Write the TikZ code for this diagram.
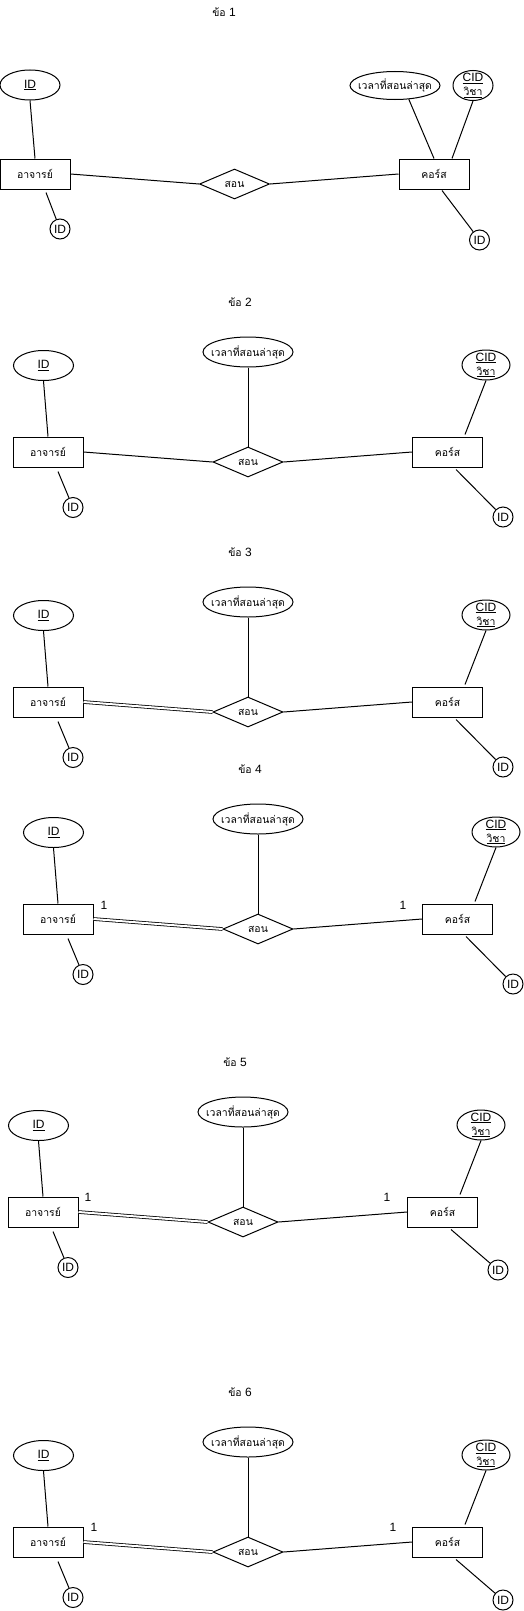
\documentclass[tikz,border=0pt]{standalone}
\usepackage{fontspec}
\setmainfont{Liberation Sans}
\newfontfamily\thai[Script=Thai,Scale=0.87]{Loma}
\usetikzlibrary{shapes.geometric}
\tikzset{
 ent/.style={draw, rectangle, minimum width=70pt, minimum height=30pt, inner sep=0pt, line width=1pt},
 rel/.style={draw, diamond, aspect=2, minimum width=70pt, minimum height=30pt, inner sep=0pt, line width=1pt},
 attr/.style={draw, ellipse, minimum height=30pt, inner sep=0pt, line width=1pt},
 sml/.style={draw, circle, minimum size=20pt, inner sep=0pt, line width=1pt},
 lbl/.style={inner sep=0pt, align=center},
 ln/.style={line width=1pt},
 dbl/.style={double, double distance=2pt, line width=0.8pt},
 ttl/.style={inner sep=0pt},
 card/.style={inner sep=0pt},
}
% #1 prefix, #2 dx, #3 dy, #4 number, #5 right circle y, #6 style of left relationship line
\newcommand\erdtwo[6]{%
\begin{scope}[shift={(#2,#3)}]
\node[ttl] (#1t) at (240,302) {{\thai ข้อ} #4};
\node[attr, minimum width=60pt, label={[lbl]center:\underline{ID}}] (#1id) at (43.5,365.5) {};
\node[ent] (#1a) at (48,452) {\thai อาจารย์};
\node[sml] (#1c) at (73,507.5) {ID};
\node[rel] (#1s) at (248,462) {\thai สอน};
\node[attr, minimum width=90pt, label={[lbl]center:{\thai เวลาที่สอนล่าสุด}}] (#1v) at (248,352) {};
\node[ent] (#1k) at (447.5,452) {\thai คอร์ส};
\node[attr, minimum width=48pt, label={[lbl]center:{\underline{CID}\\\underline{\thai วิชา}}}] (#1cid) at (486,365) {};
\node[sml] (#1c2) at (503,#5) {ID};
\draw[ln] (#1id.south) -- (#1a.north);
\draw[ln] ([xshift=10pt,yshift=-4pt]#1a.south) -- (#1c);
\draw[#6] (#1a.east) -- (#1s.west);
\draw[ln] (#1s.east) -- (#1k.west);
\draw[ln] (#1v.south) -- (#1s.north);
\draw[ln] (#1cid.south) -- ([xshift=17.5pt,yshift=2pt]#1k.north);
\draw[ln] ([xshift=8.5pt,yshift=-2pt]#1k.south) -- (#1c2);
\end{scope}}
\begin{document}
\begin{tikzpicture}[x=1pt,y=-1pt,font=\fontsize{12pt}{14pt}\selectfont]
\useasboundingbox (0,0) rectangle (524,1611);
% ---- 1 ----
\node[ttl] (t1) at (224,12) {{\thai ข้อ} 1};
\node[attr, minimum width=60pt, label={[lbl]center:\underline{ID}}] (d1id) at (30,85) {};
\node[ent] (d1a) at (35,174) {\thai อาจารย์};
\node[sml] (d1c) at (60,229) {ID};
\node[rel] (d1s) at (234.5,184) {\thai สอน};
\node[ent] (d1k) at (434,174) {\thai คอร์ส};
\node[attr, minimum width=90pt, minimum height=28pt, label={[lbl]center:{\thai เวลาที่สอนล่าสุด}}] (d1v) at (395,85.5) {};
\node[attr, minimum width=40pt, label={[lbl]center:{\underline{CID}\\\underline{\thai วิชา}}}] (d1cid) at (473,85.5) {};
\node[sml] (d1c2) at (479.5,240) {ID};
\draw[ln] (d1id.south) -- (d1a.north);
\draw[ln] ([xshift=11pt,yshift=-3pt]d1a.south) -- (d1c);
\draw[ln] (d1a.east) -- (d1s.west);
\draw[ln] (d1s.east) -- (d1k.west);
\draw[ln] (d1v.-45) -- (d1k.north);
\draw[ln] (d1cid.south) -- ([xshift=18pt]d1k.north);
\draw[ln] ([xshift=8pt,yshift=-1pt]d1k.south) -- (d1c2);
% ---- 2..6 ----
\erdtwo{d2}{0}{0}{2}{517}{ln}
\erdtwo{d3}{0}{250}{3}{517}{dbl}
\erdtwo{d4}{10}{467}{4}{517}{dbl}
\erdtwo{d5}{-5}{760}{5}{510}{dbl}
\erdtwo{d6}{0}{1090}{6}{510}{dbl}
% cardinalities
\node[card] (n4a) at (104,905) {1};
\node[card] (n4b) at (403,905) {1};
\node[card] (n5a) at (88,1197) {1};
\node[card] (n5b) at (387,1197) {1};
\node[card] (n6a) at (94,1527) {1};
\node[card] (n6b) at (393,1527) {1};
\end{tikzpicture}
\end{document}
